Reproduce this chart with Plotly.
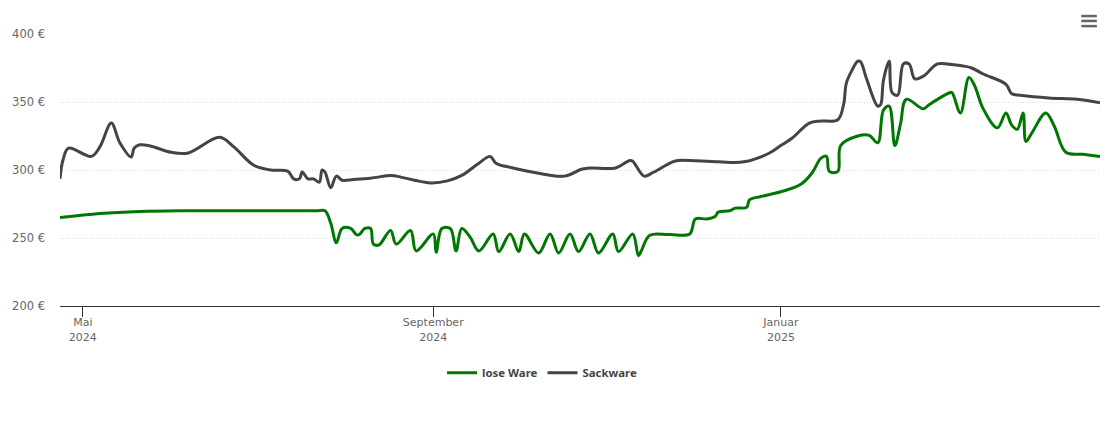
import plotly.graph_objects as go

lose_dates = [
    "2024-04-23", "2024-05-07", "2024-05-21", "2024-06-04", "2024-06-20", "2024-07-08", "2024-07-22", "2024-07-25",
    "2024-07-27", "2024-07-29",
    "2024-07-31", "2024-08-03", "2024-08-05", "2024-08-06", "2024-08-08", "2024-08-10", "2024-08-11",
    "2024-08-13", "2024-08-17", "2024-08-19", "2024-08-24", "2024-08-26", "2024-09-01", "2024-09-02",
    "2024-09-04", "2024-09-07", "2024-09-09", "2024-09-11", "2024-09-14", "2024-09-17", "2024-09-22",
    "2024-09-24", "2024-09-28", "2024-10-01", "2024-10-03", "2024-10-08", "2024-10-12", "2024-10-15",
    "2024-10-19", "2024-10-22", "2024-10-26", "2024-10-29", "2024-11-03", "2024-11-05", "2024-11-10",
    "2024-11-12", "2024-11-13", "2024-11-16", "2024-11-23", "2024-11-30", "2024-12-02", "2024-12-06", "2024-12-09",
    "2024-12-10", "2024-12-14", "2024-12-16", "2024-12-20", "2024-12-21", "2024-12-25", "2025-01-01",
    "2025-01-08", "2025-01-12", "2025-01-15", "2025-01-17", "2025-01-18", "2025-01-21", "2025-01-22",
    "2025-01-28", "2025-02-01", "2025-02-04", "2025-02-06", "2025-02-08", "2025-02-10", "2025-02-12",
    "2025-02-14", "2025-02-20", "2025-02-22", "2025-03-01", "2025-03-02", "2025-03-05", "2025-03-08",
    "2025-03-10", "2025-03-13", "2025-03-18", "2025-03-21", "2025-03-23", "2025-03-25", "2025-03-27",
    "2025-03-28", "2025-03-30", "2025-04-04", "2025-04-07", "2025-04-11", "2025-04-17", "2025-04-23",
]
lose_values = [
    265, 268, 269.5, 270, 270, 270, 270, 270,
    261, 246.5,
    257, 257, 252.5, 252.5, 257, 257, 245.5,
    245, 255.5, 245.5, 255.5, 240.5, 253, 239.5,
    257, 257, 240.5, 257, 250.5, 240.5, 253,
    240, 253, 240, 253, 239, 253, 239,
    253, 240, 253, 239, 253, 240, 253,
    237, 240.5, 252, 252.5, 253, 264, 264, 266,
    269, 270, 272, 272.5, 278, 280.5, 284,
    289.5, 298, 308.5, 310, 299, 299, 318,
    325, 325.5, 320, 344, 347, 318, 334,
    352, 345, 348, 356.6, 357, 342, 368,
    362, 345, 331, 342, 333, 330, 342,
    321, 327, 342, 332, 313, 311.5, 310,
]

sack_dates = [
    "2024-04-23", "2024-04-24", "2024-04-26", "2024-05-04", "2024-05-07", "2024-05-11", "2024-05-14",
    "2024-05-18", "2024-05-19", "2024-05-21", "2024-05-25", "2024-06-01", "2024-06-07", "2024-06-18",
    "2024-06-23", "2024-06-30", "2024-07-06", "2024-07-12", "2024-07-14", "2024-07-16", "2024-07-17",
    "2024-07-19", "2024-07-21", "2024-07-23", "2024-07-24", "2024-07-25", "2024-07-27", "2024-07-29",
    "2024-07-31", "2024-08-04", "2024-08-10", "2024-08-17", "2024-08-19", "2024-08-31", "2024-09-06",
    "2024-09-11", "2024-09-17", "2024-09-21", "2024-09-23", "2024-09-29", "2024-10-07", "2024-10-17",
    "2024-10-23", "2024-10-26", "2024-11-04", "2024-11-09", "2024-11-10", "2024-11-14", "2024-11-17",
    "2024-11-24", "2024-11-26", "2024-12-10", "2024-12-19", "2024-12-28", "2025-01-01", "2025-01-05",
    "2025-01-11", "2025-01-15", "2025-01-21", "2025-01-23", "2025-01-24", "2025-01-26", "2025-01-28",
    "2025-01-29", "2025-01-31", "2025-02-04", "2025-02-05", "2025-02-06", "2025-02-08", "2025-02-09",
    "2025-02-11", "2025-02-13", "2025-02-15", "2025-02-17", "2025-02-20", "2025-02-25", "2025-03-02",
    "2025-03-06", "2025-03-09", "2025-03-13", "2025-03-21", "2025-03-23", "2025-03-26", "2025-04-05", "2025-04-15",
    "2025-04-23",
]
sack_values = [
    293.5, 307, 316, 310, 317, 334.5, 320,
    309.5, 316, 318.5, 317.5, 313, 312.5, 324,
    317, 303.5, 300, 299, 293.5, 293.5, 298.5,
    293.5, 293.5, 291, 300, 298.5, 287, 295.5,
    292.5, 293, 294, 296, 295.5, 290.5, 292,
    296, 305, 310, 305, 301.5, 298, 295.5,
    300.5, 301.5, 301.5, 307, 306.5, 295.5, 298,
    306, 307, 306, 306, 312.5, 318, 323.5,
    334.5, 336, 337, 348, 364, 373.5, 380,
    379.5, 367.5, 347, 348, 366, 380, 357,
    355, 378, 378, 367, 369, 378, 377.5,
    376.5, 375, 370.6, 363, 356, 355, 353, 352,
    349.5,
]

x_ticks = ["2024-05-01", "2024-09-01", "2025-01-01"]
x_labels = ["Mai<br>2024", "September<br>2024", "Januar<br>2025"]
y_ticks = [200, 250, 300, 350, 400]
y_labels = ["200 €", "250 €", "300 €", "350 €", "400 €"]

FONT = "DejaVu Sans"

fig = go.Figure()
fig.add_trace(go.Scatter(
    x=lose_dates, y=lose_values, name="lose Ware", mode="lines",
    line=dict(color="#007700", width=3, shape="spline", smoothing=1),
))
fig.add_trace(go.Scatter(
    x=sack_dates, y=sack_values, name="Sackware", mode="lines",
    line=dict(color="#434348", width=3, shape="spline", smoothing=1),
))

fig.update_layout(
    width=1102, height=415,
    margin=dict(l=52, r=10, t=26, b=117),
    paper_bgcolor="white", plot_bgcolor="white",
    font=dict(family=FONT, size=11, color="#666666"),
    legend=dict(
        orientation="h", xanchor="center", x=0.4635, yanchor="middle", y=-0.245,
        font=dict(family="Noto Sans", size=11.4, color="#444444", weight="bold"),
        itemwidth=30, tracegroupgap=0,
    ),
)
fig.update_xaxes(
    type="date", range=["2024-04-23", "2025-04-23"],
    tickmode="array", tickvals=x_ticks, ticktext=x_labels,
    ticks="outside", ticklen=10, tickwidth=1, tickcolor="#333333",
    ticklabelstandoff=-4, automargin=False,
    showline=True, linecolor="#333333", linewidth=1,
    showgrid=False, zeroline=False,
)
fig.update_yaxes(
    range=[200, 400],
    tickmode="array", tickvals=y_ticks, ticktext=y_labels,
    tickfont=dict(size=11.5),
    showgrid=True, gridcolor="#d8d8d8", gridwidth=1, griddash="1px,2px",
    zeroline=False, showline=False, ticks="", ticklabelstandoff=14, automargin=False,
)

# context menu button in the corner
for yp in [1.066, 1.048, 1.029]:
    fig.add_shape(type="line", xref="paper", yref="paper", x0=0.982, x1=0.997, y0=yp, y1=yp,
                  line=dict(color="#666666", width=2.5))

fig.write_html("out.html", config={"displayModeBar": False})
